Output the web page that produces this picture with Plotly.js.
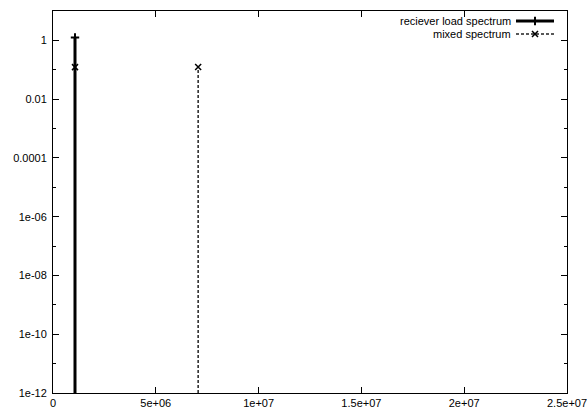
<!DOCTYPE html>
<html><head><meta charset="utf-8">
<script src="https://cdn.plot.ly/plotly-3.0.1.min.js"></script>
<style>html,body{margin:0;padding:0;background:#fff}</style>
</head><body><div id="chart" style="width:587px;height:412px"></div>
<script>
// ---- data ----
const recvFreq = [1.07e6];
const recvAmp = [1.25];
const mixFreq = [1.07e6, 7.06e6];
const mixAmp = [0.123, 0.125];
const seriesNames = ['reciever load spectrum', 'mixed spectrum'];
const xTickVals = [0, 5e6, 1e7, 1.5e7, 2e7, 2.5e7];
const xTickText = ['0', '5e+06', '1e+07', '1.5e+07', '2e+07', '2.5e+07'];
const yTickVals = [1e-12, 1e-10, 1e-8, 1e-6, 1e-4, 1e-2, 1];
const yTickText = ['1e-12', '1e-10', '1e-08', '1e-06', '0.0001', '0.01', '1'];
const yMinorVals = [1e-11, 1e-9, 1e-7, 1e-5, 1e-3, 1e-1];

// ---- drawing ----
const yRange = [-12, 1];
const yFloor = Math.pow(10, yRange[0]);
function impulses(xs, ys) {
  const x = [], y = [];
  xs.forEach((v, i) => { x.push(v, v, null); y.push(yFloor, ys[i], null); });
  return {x, y};
}
const r = impulses(recvFreq, recvAmp);
const m = impulses(mixFreq, mixAmp);
const dashStyle = '3px,2px';
const plusMarker = {symbol: 'cross-thin-open', size: 6, color: '#000', line: {color: '#000', width: 2}};
const xMarker = {symbol: 'x-thin-open', size: 6, color: '#000', line: {color: '#000', width: 1.5}};
const legRow = [21, 34];

const traces = [
  {x: m.x, y: m.y, mode: 'lines', line: {color: '#222', width: 1.5, dash: dashStyle}, name: seriesNames[1]},
  {x: r.x, y: r.y, mode: 'lines', line: {color: '#000', width: 3}, name: seriesNames[0]},
  {x: mixFreq, y: mixAmp, mode: 'markers', marker: xMarker, name: seriesNames[1]},
  {x: recvFreq, y: recvAmp, mode: 'markers', marker: plusMarker, name: seriesNames[0]},
  // legend samples (pixel-space overlay axes)
  {x: [516, 554], y: [legRow[0], legRow[0]], xaxis: 'x2', yaxis: 'y3', mode: 'lines', line: {color: '#000', width: 3}},
  {x: [535], y: [legRow[0]], xaxis: 'x2', yaxis: 'y3', mode: 'markers', marker: plusMarker},
  {x: [516, 554], y: [legRow[1], legRow[1]], xaxis: 'x2', yaxis: 'y3', mode: 'lines', line: {color: '#222', width: 1.5, dash: dashStyle}},
  {x: [535], y: [legRow[1]], xaxis: 'x2', yaxis: 'y3', mode: 'markers', marker: xMarker}
];

const axisCommon = {
  ticks: 'inside', ticklen: 6, tickwidth: 1, tickcolor: '#000',
  showline: true, linecolor: '#000', linewidth: 1, mirror: 'ticks',
  showgrid: false, zeroline: false,
  tickfont: {size: 11, color: '#000'}
};

const layout = {
  width: 587, height: 412,
  margin: {l: 53, r: 20, t: 11, b: 19, pad: 0},
  paper_bgcolor: '#fff', plot_bgcolor: '#fff',
  font: {family: '"Liberation Sans", Arial, sans-serif', size: 11, color: '#000'},
  showlegend: false,
  xaxis: Object.assign({}, axisCommon, {
    type: 'linear', range: [0, 2.5e7], tickmode: 'array', tickvals: xTickVals, ticktext: xTickText,
    ticklabelstandoff: 0, ticklabeloverflow: 'allow'
  }),
  yaxis: Object.assign({}, axisCommon, {
    type: 'log', range: yRange, tickmode: 'array', tickvals: yTickVals, ticktext: yTickText,
    ticklabelstandoff: 3,
    minor: {tickmode: 'array', tickvals: yMinorVals, ticks: 'inside', ticklen: 3, tickcolor: '#000', showgrid: false}
  }),
  xaxis2: {overlaying: 'x', range: [53, 567], visible: false, fixedrange: true},
  yaxis3: {overlaying: 'y', range: [393, 11], visible: false, fixedrange: true},
  annotations: [
    {xref: 'x2', yref: 'y3', x: 512, y: legRow[0], text: seriesNames[0], showarrow: false, xanchor: 'right', yanchor: 'middle', borderpad: 0, font: {size: 11, color: '#000'}},
    {xref: 'x2', yref: 'y3', x: 512, y: legRow[1], text: seriesNames[1], showarrow: false, xanchor: 'right', yanchor: 'middle', borderpad: 0, font: {size: 11, color: '#000'}}
  ]
};

Plotly.newPlot('chart', traces, layout, {displayModeBar: false, staticPlot: true});
</script>
</body></html>
